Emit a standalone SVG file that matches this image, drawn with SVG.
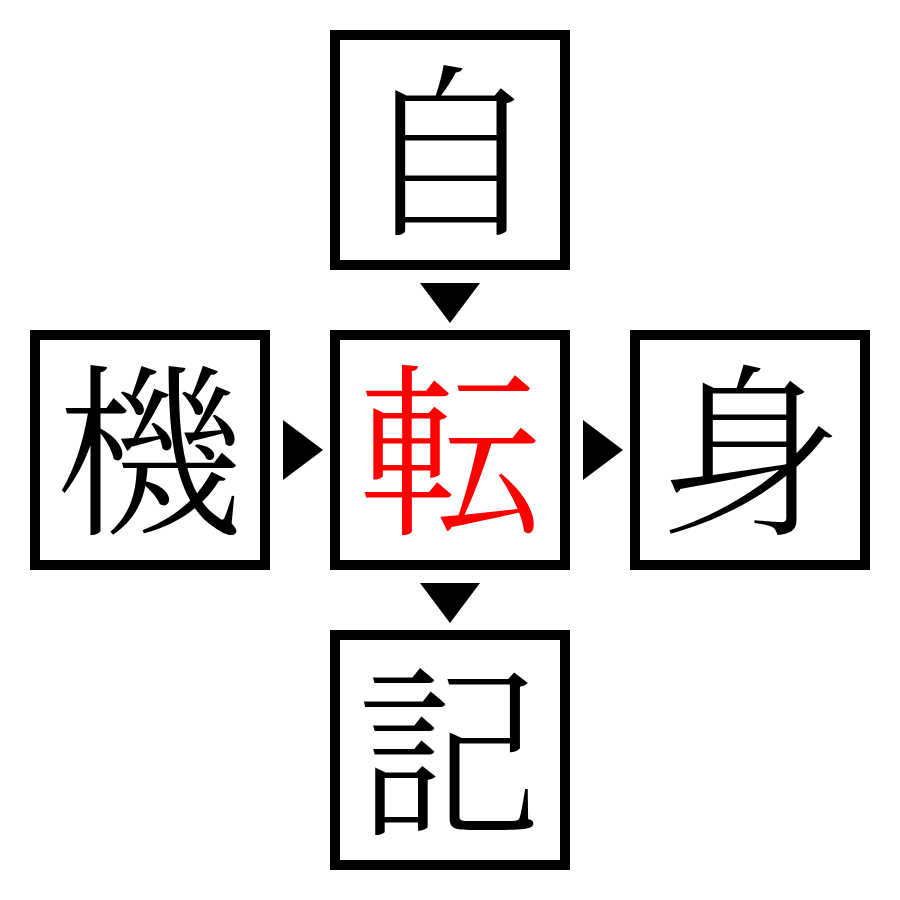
<svg xmlns="http://www.w3.org/2000/svg" width="900" height="900" viewBox="0 0 900 900">
<style>
.box{fill:#fff;stroke:#000;stroke-width:10}
.ch{font-family:"Noto Serif CJK JP","Noto Sans CJK JP",serif;font-size:186px;font-weight:300;text-anchor:middle;dominant-baseline:central;fill:#000}
.red{fill:#ff0000}
.arr{fill:#000}
</style>
<rect width="900" height="900" fill="#fff"/>
<g id="connectors">
<polygon class="arr" points="420,283 480,283 450,323"/>
<polygon class="arr" points="420,583 480,583 450,623"/>
<polygon class="arr" points="283,420 283,480 323,450"/>
<polygon class="arr" points="583,420 583,480 623,450"/>
</g>
<g id="node-top"><rect class="box" x="335" y="35" width="230" height="230"/><text class="ch" x="450" y="140">自</text></g>
<g id="node-left"><rect class="box" x="35" y="335" width="230" height="230"/><text class="ch" x="150" y="440">機</text></g>
<g id="node-center"><rect class="box" x="335" y="335" width="230" height="230"/><text class="ch red" x="450" y="440">転</text></g>
<g id="node-right"><rect class="box" x="635" y="335" width="230" height="230"/><text class="ch" x="750" y="440">身</text></g>
<g id="node-bottom"><rect class="box" x="335" y="635" width="230" height="230"/><text class="ch" x="450" y="740">記</text></g>
</svg>
